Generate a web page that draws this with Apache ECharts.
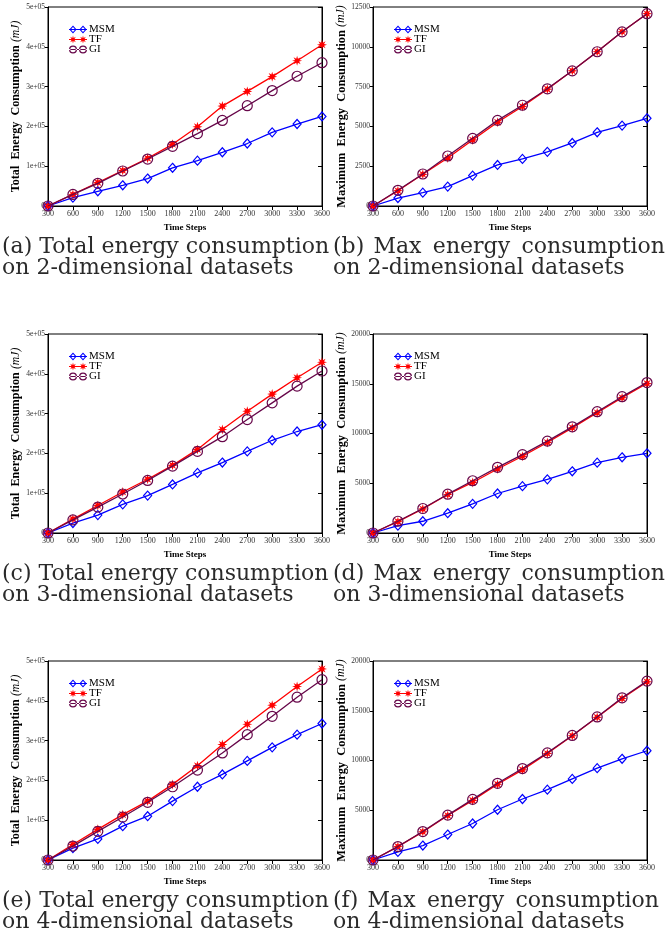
<!DOCTYPE html>
<html>
<head>
<meta charset="utf-8">
<script src="https://cdn.jsdelivr.net/npm/echarts@6/dist/echarts.min.js"></script>
<style>
html,body{margin:0;padding:0;background:#fff;}
#chart{width:667px;height:935px;}
</style>
</head>
<body>
<div id="chart"></div>
<script>
// ---- Data ----
const timeSteps = [300, 600, 900, 1200, 1500, 1800, 2100, 2400, 2700, 3000, 3300, 3600];
const seriesNames = ['MSM', 'TF', 'GI'];

// (a) Total energy, 2-D
const msmTotal2D = [0, 21000, 37000, 52000, 69000, 96000, 114000, 135000, 157000, 185000, 206000, 225000];
const tfTotal2D  = [0, 29000, 59000, 89000, 120000, 155000, 199000, 251000, 288000, 325000, 365000, 405000];
const giTotal2D  = [0, 29000, 57000, 88000, 118000, 150000, 182000, 215000, 252000, 290000, 326000, 360000];
// (b) Max energy, 2-D
const msmMax2D = [0, 500, 840, 1220, 1910, 2580, 2960, 3400, 3960, 4630, 5050, 5510];
const tfMax2D  = [0, 960, 1990, 3020, 4150, 5260, 6250, 7340, 8490, 9690, 10940, 12080];
const giMax2D  = [0, 985, 2010, 3140, 4250, 5380, 6330, 7360, 8490, 9690, 10940, 12080];
// (c) Total energy, 3-D
const msmTotal3D = [0, 25000, 45000, 72000, 94000, 122000, 151000, 177000, 205000, 233000, 255000, 272000];
const tfTotal3D  = [0, 35000, 69000, 103000, 135000, 170000, 210000, 260000, 306000, 349000, 390000, 429000];
const giTotal3D  = [0, 33000, 65000, 98000, 132000, 168000, 205000, 242000, 285000, 327000, 369000, 407000];
// (d) Max energy, 3-D
const msmMax3D = [0, 740, 1180, 1990, 2930, 3970, 4710, 5390, 6200, 7070, 7610, 8010];
const tfMax3D  = [0, 1140, 2420, 3870, 5080, 6430, 7710, 9090, 10570, 12090, 13600, 15020];
const giMax3D  = [0, 1180, 2460, 3900, 5250, 6600, 7880, 9230, 10670, 12190, 13700, 15120];
// (e) Total energy, 4-D
const msmTotal4D = [0, 30000, 53000, 85000, 110000, 148000, 184000, 215000, 249000, 283000, 315000, 343000];
const tfTotal4D  = [0, 39000, 77000, 114000, 148000, 190000, 237000, 290000, 341000, 389000, 436000, 480000];
const giTotal4D  = [0, 35000, 72000, 108000, 145000, 184000, 226000, 269000, 315000, 361000, 409000, 453000];
// (f) Max energy, 4-D
const msmMax4D = [0, 810, 1450, 2560, 3670, 5050, 6130, 7070, 8150, 9230, 10170, 10980];
const tfMax4D  = [0, 1350, 2830, 4480, 5990, 7610, 9060, 10710, 12490, 14340, 16230, 17910];
const giMax4D  = [0, 1350, 2860, 4510, 6090, 7710, 9190, 10770, 12520, 14380, 16300, 17980];

// Y axis scales
const totalYMax = 500000, totalYStep = 100000;
const max2DYMax = 12500, max2DYStep = 2500;
const max34YMax = 20000, max34YStep = 5000;

// Captions
const captions = [
  ['(a) Total energy consumption', 'on 2-dimensional datasets'],
  ['(b)\u200A Max\u2009 energy\u2009 consumption', 'on 2-dimensional datasets'],
  ['(c) Total energy consumption', 'on 3-dimensional datasets'],
  ['(d)\u200A Max\u2009 energy\u2009 consumption', 'on 3-dimensional datasets'],
  ['(e) Total energy consumption', 'on 4-dimensional datasets'],
  ['(f)\u200A Max\u2009 energy\u2009 consumption', 'on 4-dimensional datasets']
];
const xAxisTitle = 'Time Steps';
const yTitleTotal = 'Total  Energy  Consumption';
const yTitleMax = 'Maximum  Energy  Consumption';
const yUnit = '(mJ)';

// ---- Layout / style ----
const panels = [
  {data: [msmTotal2D, tfTotal2D, giTotal2D], yMax: totalYMax, yStep: totalYStep, sci: true,  yTitle: yTitleTotal, tSize: 12.2},
  {data: [msmMax2D, tfMax2D, giMax2D],       yMax: max2DYMax, yStep: max2DYStep, sci: false, yTitle: yTitleMax,   tSize: 12.4},
  {data: [msmTotal3D, tfTotal3D, giTotal3D], yMax: totalYMax, yStep: totalYStep, sci: true,  yTitle: yTitleTotal, tSize: 12.2},
  {data: [msmMax3D, tfMax3D, giMax3D],       yMax: max34YMax, yStep: max34YStep, sci: false, yTitle: yTitleMax,   tSize: 12.4},
  {data: [msmTotal4D, tfTotal4D, giTotal4D], yMax: totalYMax, yStep: totalYStep, sci: true,  yTitle: yTitleTotal, tSize: 12.2},
  {data: [msmMax4D, tfMax4D, giMax4D],       yMax: max34YMax, yStep: max34YStep, sci: false, yTitle: yTitleMax,   tSize: 12.4}
];
const colLeft = [48, 373];
const plotW = 274;
const rowTop = [7, 334, 661];
const plotH = 199;

const colors = ['#0000ff', '#ff0000', '#67074a'];

// asterisk polygon around (cx, cy)
function asteriskPoly(cx, cy, R, r) {
  let pts = [];
  const n = 16;
  for (let k = 0; k < n; k++) {
    const a = k * Math.PI * 2 / n - Math.PI / 2;
    const rr = (k % 2 === 0) ? R : r;
    pts.push((cx + rr * Math.cos(a)).toFixed(2) + ' ' + (cy + rr * Math.sin(a)).toFixed(2));
  }
  return 'M' + pts.join(' L') + ' Z';
}
const asteriskSymbol = 'path://' + asteriskPoly(50, 50, 50, 22);

// legend icons: a line with a marker at each end (box 180 x 80)
const lineRect = 'M0 36 L180 36 L180 44 L0 44 Z ';
function diamondRing(cx) {
  return 'M' + cx + ' 0 L' + (cx + 36) + ' 40 L' + cx + ' 80 L' + (cx - 36) + ' 40 Z ' +
         'M' + cx + ' 14 L' + (cx - 22) + ' 40 L' + cx + ' 66 L' + (cx + 22) + ' 40 Z ';
}
function circleRing(cx) {
  return 'M' + (cx - 40) + ' 40 A40 40 0 1 0 ' + (cx + 40) + ' 40 A40 40 0 1 0 ' + (cx - 40) + ' 40 Z ' +
         'M' + (cx - 27) + ' 40 A27 27 0 1 1 ' + (cx + 27) + ' 40 A27 27 0 1 1 ' + (cx - 27) + ' 40 Z ';
}
const legendIcons = [
  'path://' + lineRect + diamondRing(40) + diamondRing(140),
  'path://' + lineRect + asteriskPoly(40, 40, 40, 17) + ' ' + asteriskPoly(140, 40, 40, 17),
  'path://' + lineRect + circleRing(40) + circleRing(140)
];

const symbols = ['diamond', asteriskSymbol, 'circle'];
const symbolSizes = [[8, 9], 10, 10];
const fills = ['rgba(0,0,0,0)', '#ff0000', 'rgba(0,0,0,0)'];
const borderWidths = [1.2, 0, 1.2];

const serif = 'Liberation Serif';

const option = {
  backgroundColor: '#fff',
  animation: false,
  grid: [], xAxis: [], yAxis: [], series: [], legend: [], graphic: []
};

panels.forEach((p, i) => {
  const col = i % 2, row = Math.floor(i / 2);
  const left = colLeft[col], top = rowTop[row];
  option.grid.push({left: left, top: top, width: plotW, height: plotH,
    show: true, borderColor: '#000', borderWidth: 1, backgroundColor: 'transparent'});
  const xi = option.xAxis.length;
  option.xAxis.push({
    type: 'value', gridIndex: i, min: 300, max: 3600, interval: 300, position: 'bottom',
    name: xAxisTitle, nameLocation: 'middle', nameGap: 17,
    nameTextStyle: {fontFamily: serif, fontWeight: 'bold', fontSize: 9, color: '#000'},
    axisLine: {show: true, onZero: false, lineStyle: {color: '#000', width: 1}},
    axisTick: {show: true, inside: false, length: 3, lineStyle: {color: '#000'}},
    axisLabel: {fontFamily: serif, fontSize: 8, color: '#333', margin: 4, formatter: v => String(v)},
    splitLine: {show: false}
  });
  option.xAxis.push({
    type: 'value', gridIndex: i, min: 300, max: 3600, interval: 300, position: 'top',
    axisLine: {show: true, lineStyle: {color: '#000', width: 1}},
    axisTick: {show: true, inside: true, length: 4, lineStyle: {color: '#000'}},
    axisLabel: {show: false}, splitLine: {show: false}
  });
  const yi = option.yAxis.length;
  option.yAxis.push({
    type: 'value', gridIndex: i, min: 0, max: p.yMax, interval: p.yStep, position: 'left',
    name: '{b|' + p.yTitle + '} {i|' + yUnit + '}', nameLocation: 'middle', nameGap: 23,
    nameRotate: 90,
    nameTextStyle: {
      fontFamily: serif, fontSize: p.tSize, color: '#000',
      rich: {
        b: {fontFamily: serif, fontSize: p.tSize, fontWeight: 'bold', color: '#000'},
        i: {fontFamily: serif, fontSize: p.tSize - 0.5, fontStyle: 'italic', color: '#000'}
      }
    },
    axisLine: {show: true, onZero: false, lineStyle: {color: '#000', width: 1}},
    axisTick: {show: true, inside: false, length: 3, lineStyle: {color: '#000'}},
    axisLabel: {fontFamily: serif, fontSize: 7.5, color: '#333', margin: 3,
      formatter: p.sci ? (v => v === 0 ? '0' : (v / 1e5) + 'e+05') : (v => String(v))},
    splitLine: {show: false}
  });
  option.yAxis.push({
    type: 'value', gridIndex: i, min: 0, max: p.yMax, interval: p.yStep, position: 'right',
    axisLine: {show: true, lineStyle: {color: '#000', width: 1}},
    axisTick: {show: true, inside: true, length: 4, lineStyle: {color: '#000'}},
    axisLabel: {show: false}, splitLine: {show: false}
  });
  seriesNames.forEach((nm, s) => {
    option.series.push({
      type: 'line', name: nm, xAxisIndex: xi, yAxisIndex: yi,
      data: timeSteps.map((t, k) => [t, p.data[s][k]]),
      symbol: symbols[s], symbolSize: symbolSizes[s], showAllSymbol: true,
      lineStyle: {color: colors[s], width: 1.3},
      itemStyle: {color: fills[s], borderColor: colors[s], borderWidth: borderWidths[s]},
      z: 2 + s
    });
  });
  option.legend.push({
    data: seriesNames.map((nm, s) => ({
      name: nm, icon: legendIcons[s],
      itemStyle: {color: colors[s], borderWidth: 0},
      lineStyle: {width: 0}
    })),
    orient: 'vertical', left: left + 21, top: top + 17,
    itemWidth: 18, itemHeight: 8, itemGap: -1, padding: 0,
    textStyle: {fontFamily: serif, fontSize: 11, color: '#000', lineHeight: 8, padding: [0, 0, 0, -3]},
    selectedMode: false
  });
  const capTop = top + plotH + 30;
  const capLeft = col === 0 ? 2 : 333;
  captions[i].forEach((line, li) => {
    option.graphic.push({
      type: 'text', left: capLeft, top: capTop + li * 21,
      style: {text: line, fontFamily: 'DejaVu Serif', fontSize: 22, fill: '#2a2a2a'}
    });
  });
});

const chart = echarts.init(document.getElementById('chart'), null, {renderer: 'canvas'});
chart.setOption(option);
</script>
</body>
</html>
